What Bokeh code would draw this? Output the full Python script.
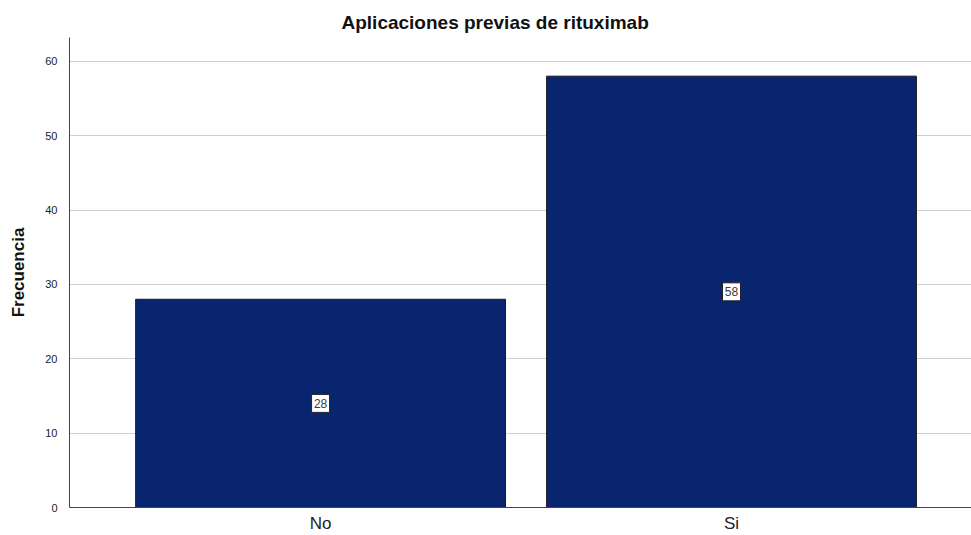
from bokeh.plotting import figure
from bokeh.models import ColumnDataSource, FixedTicker, Range1d
from bokeh.core.properties import value
from bokeh.embed import file_html
from bokeh.resources import INLINE

categories = ["No", "Si"]
counts = [28, 58]
y_ticks = [0, 10, 20, 30, 40, 50, 60]

xs = [i + 1 for i in range(len(categories))]
src = ColumnDataSource(dict(
    x=xs, top=counts, mid=[c / 2 for c in counts],
    lab=[str(c) for c in counts]))

p = figure(width=971, height=535, output_backend="svg", toolbar_location=None,
           x_range=Range1d(0.389, 2.584), y_range=Range1d(0, 63.2),
           min_border_left=69, min_border_right=0, min_border_top=37,
           min_border_bottom=28)
p.title.text = "Aplicaciones previas de rituximab"
p.title.align = "left"
p.title.offset = 272
p.title.text_font = "Liberation Sans"
p.title.text_font_size = "19px"
p.title.text_font_style = "bold"
p.title.text_color = "#111111"

p.vbar(x="x", top="top", width=0.9, bottom=0, source=src,
       fill_color="#0a2570", line_color="#1a1a1a", line_width=1)

# value label boxes
p.rect(x="x", y="mid", width=18, height=18, width_units="screen",
       height_units="screen", source=src, fill_color="white",
       line_color="#222222", line_width=1)
p.text(x="x", y="mid", text="lab", source=src, text_align="center",
       text_baseline="middle", text_font=value("Liberation Sans"),
       text_font_size=value("12px"), text_color="#3a3a4a")

p.outline_line_color = None
p.xgrid.grid_line_color = None
p.ygrid.grid_line_color = "#cfcfcf"
p.ygrid.grid_line_width = 1

p.yaxis.ticker = FixedTicker(ticks=y_ticks)
p.yaxis.major_tick_line_color = None
p.yaxis.minor_tick_line_color = None
p.yaxis.axis_line_color = "#444444"
p.yaxis.major_label_text_font = "Liberation Sans"
p.yaxis.major_label_text_font_size = "11px"
p.yaxis.major_label_text_color = "#222222"
p.yaxis.major_label_standoff = 6
p.yaxis.axis_label = "Frecuencia"
p.yaxis.axis_label_text_font = "Liberation Sans"
p.yaxis.axis_label_text_font_size = "17px"
p.yaxis.axis_label_text_font_style = "bold"
p.yaxis.axis_label_text_color = "#111111"
p.yaxis.axis_label_standoff = 14

p.xaxis.ticker = FixedTicker(ticks=xs)
p.xaxis.major_label_overrides = {x: c for x, c in zip(xs, categories)}
p.xaxis.major_tick_line_color = None
p.xaxis.minor_tick_line_color = None
p.xaxis.axis_line_color = "#444444"
p.xaxis.major_label_text_font = "Liberation Sans"
p.xaxis.major_label_text_font_size = "17px"
p.xaxis.major_label_text_color = "#222222"
p.xaxis.major_label_standoff = 0

open("out.html", "w").write(file_html(p, INLINE))
